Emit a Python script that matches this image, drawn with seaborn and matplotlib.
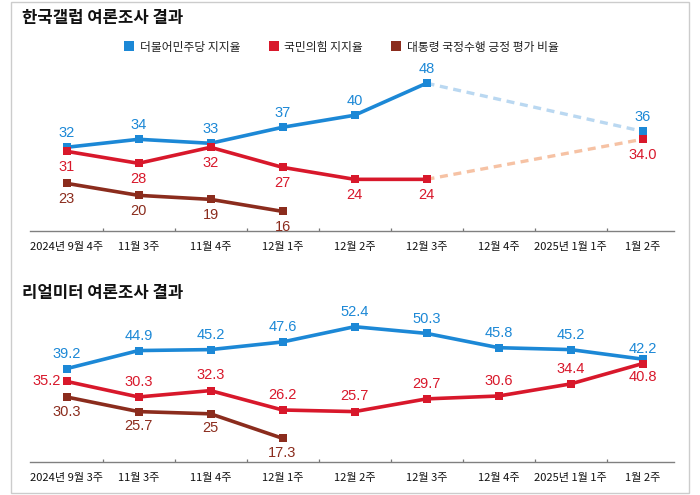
import numpy as np
import pandas as pd
import seaborn as sns
import matplotlib.pyplot as plt
from matplotlib.lines import Line2D
from matplotlib.patches import Rectangle

# --- data ---
gallup_weeks = ['2024년 9월 4주', '11월 3주', '11월 4주', '12월 1주', '12월 2주',
                '12월 3주', '12월 4주', '2025년 1월 1주', '1월 2주']
gallup_dem = [32, 34, 33, 37, 40, 48, None, None, 36]
gallup_ppp = [31, 28, 32, 27, 24, 24, None, None, 34.0]
gallup_pres = [23, 20, 19, 16]

realmeter_weeks = ['2024년 9월 3주', '11월 3주', '11월 4주', '12월 1주', '12월 2주',
                   '12월 3주', '12월 4주', '2025년 1월 1주', '1월 2주']
realmeter_dem = [39.2, 44.9, 45.2, 47.6, 52.4, 50.3, 45.8, 45.2, 42.2]
realmeter_ppp = [35.2, 30.3, 32.3, 26.2, 25.7, 29.7, 30.6, 34.4, 40.8]
realmeter_pres = [30.3, 25.7, 25, 17.3]

legend_labels = ['더불어민주당 지지율', '국민의힘 지지율', '대통령 국정수행 긍정 평가 비율']

BLUE = '#1c88d6'
RED = '#d8182b'
BROWN = '#8b2c1d'
LIGHT_BLUE = '#bad8f1'
LIGHT_ORANGE = '#f6c2a4'

sns.set_style("white")
plt.rcParams['font.family'] = ['Noto Sans CJK KR', 'DejaVu Sans']
NUM_FONT = ['Liberation Sans Narrow', 'Liberation Sans', 'Noto Sans CJK KR']
NUM_SIZE = 10.5


def to_frame(values):
    df = pd.DataFrame({'x': np.arange(len(values)), 'y': values})
    return df.dropna()


def draw_line(ax, values, color, dashed=False):
    df = to_frame(values)
    if dashed:
        sns.lineplot(data=df, x='x', y='y', ax=ax, color=color, lw=2.4,
                     linestyle=(0, (2.4, 1.7)), zorder=2)
    else:
        sns.lineplot(data=df, x='x', y='y', ax=ax, color=color, lw=2.6,
                     marker='s', markersize=5.5, markeredgewidth=0, zorder=3)


def put_label(ax, x, v, color, dx, dy, ha='center'):
    ax.annotate(str(v), (x, v), xytext=(dx, dy), textcoords='offset points',
                ha=ha, va='center', color=color, fontsize=NUM_SIZE,
                family=NUM_FONT)


def put_labels(ax, values, color, dy, skip=()):
    for i, v in enumerate(values):
        if v is None or i in skip:
            continue
        put_label(ax, i, v, color, 0, dy)


def style_axis(ax, weeks, ylim):
    ax.set_xlim(-0.507, 8.437)
    ax.set_ylim(*ylim)
    ax.set_xlabel('')
    ax.set_ylabel('')
    ax.set_yticks([])
    ax.set_xticks(np.arange(len(weeks)))
    ax.set_xticklabels(weeks, fontsize=8, color='#111111')
    ax.set_xticks(np.arange(len(weeks) - 1) + 0.5, minor=True)
    ax.tick_params(axis='x', which='major', length=0, pad=8)
    ax.tick_params(axis='x', which='minor', direction='in', length=2.5,
                   width=0.9, color='#777777', bottom=True)
    for side in ['top', 'left', 'right']:
        ax.spines[side].set_visible(False)
    ax.spines['bottom'].set_color('#808080')
    ax.spines['bottom'].set_linewidth(1.0)
    ax.patch.set_alpha(0)


fig = plt.figure(figsize=(7, 4.95), dpi=100)
fig.patches.append(Rectangle((10.5 / 700, 2 / 495), 678.5 / 700, 491 / 495,
                             transform=fig.transFigure, fill=False,
                             edgecolor='#cccccc', lw=1))

ax1 = fig.add_axes([30 / 700, 1 - 231 / 495, 644 / 700, (231 - 62) / 495])
ax2 = fig.add_axes([30 / 700, 1 - 461.7 / 495, 644 / 700, (461.7 - 300) / 495])

# --- 한국갤럽 ---
draw_line(ax1, [None] * 5 + [gallup_dem[5], None, None, gallup_dem[8]], LIGHT_BLUE, dashed=True)
draw_line(ax1, [None] * 5 + [gallup_ppp[5], None, None, gallup_ppp[8]], LIGHT_ORANGE, dashed=True)
draw_line(ax1, gallup_dem[:6], BLUE)
draw_line(ax1, gallup_ppp[:6], RED)
draw_line(ax1, gallup_pres, BROWN)
ax1.plot([8], [gallup_dem[8]], marker='s', color=BLUE, markersize=5.5, mew=0, zorder=4)
ax1.plot([8], [gallup_ppp[8]], marker='s', color=RED, markersize=5.5, mew=0, zorder=4)
put_labels(ax1, gallup_dem, BLUE, 10)
put_labels(ax1, gallup_ppp, RED, -11)
put_labels(ax1, gallup_pres, BROWN, -11.5)
style_axis(ax1, gallup_weeks, (11.1, 53.3))

# --- 리얼미터 ---
draw_line(ax2, realmeter_dem, BLUE)
draw_line(ax2, realmeter_ppp, RED)
draw_line(ax2, realmeter_pres, BROWN)
put_labels(ax2, realmeter_dem, BLUE, 10.5, skip=(8,))
put_labels(ax2, realmeter_ppp, RED, 11, skip=(0, 8))
put_labels(ax2, realmeter_pres, BROWN, -10.5)
put_label(ax2, 8, realmeter_dem[8], BLUE, 0, 7)
put_label(ax2, 0, realmeter_ppp[0], RED, -4, 0, ha='right')
put_label(ax2, 8, realmeter_ppp[8], RED, 0, -10)
style_axis(ax2, realmeter_weeks, (9.94, 60.8))

# --- titles and legend ---
fig.text(22 / 700, 1 - 18 / 495, '한국갤럽 여론조사 결과', fontsize=12, fontweight='bold',
         color='#111111', ha='left', va='center')
fig.text(22 / 700, 1 - 293 / 495, '리얼미터 여론조사 결과', fontsize=12, fontweight='bold',
         color='#111111', ha='left', va='center')

handles = [Line2D([], [], marker='s', linestyle='none', color=c, markersize=7, mew=0)
           for c in (BLUE, RED, BROWN)]
fig.legend(handles, legend_labels, loc='center', bbox_to_anchor=(341 / 700, 1 - 47 / 495),
           ncol=3, frameon=False, fontsize=8.5, handletextpad=0.4, columnspacing=2.3,
           handlelength=1.0, labelcolor='#222222')

fig.savefig('out.png', dpi=100)
